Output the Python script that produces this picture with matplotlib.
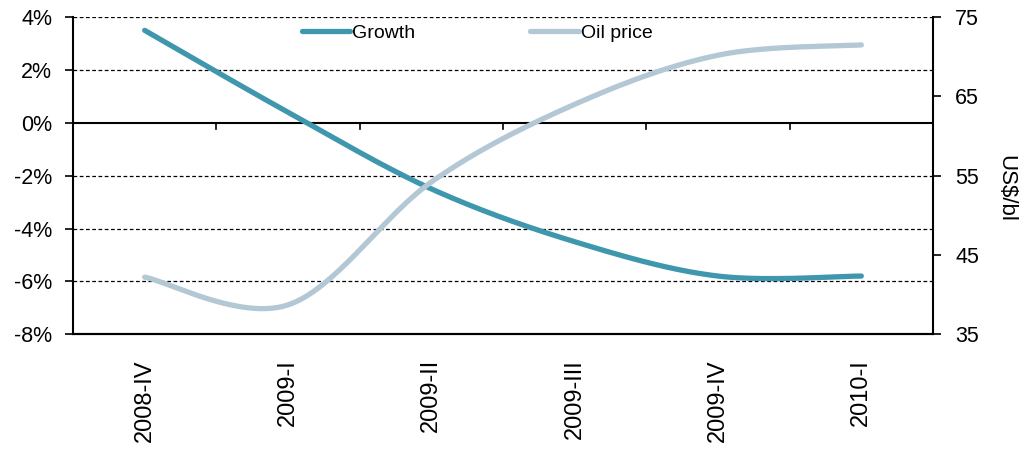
import numpy as np
import matplotlib
matplotlib.use("Agg")
from matplotlib import pyplot as plt
from matplotlib.ticker import FuncFormatter

plt.rcParams['font.family'] = ['Liberation Sans', 'DejaVu Sans']

# data
quarters = ['2008-IV', '2009-I', '2009-II', '2009-III', '2009-IV', '2010-I']
growth = [3.5, 0.4, -2.5, -4.5, -5.8, -5.8]       # % (left axis)
oil_price = [42.2, 38.7, 54.2, 64.0, 70.2, 71.5]  # US$/bl (right axis)

growth_col = '#3f97ae'
oil_col = '#b3c7d5'


def smooth(x, y, n=40):
    # excel-like smoothed line (bezier through the points)
    x = np.asarray(x, float)
    y = np.asarray(y, float)
    px = np.concatenate([[x[0]], x, [x[-1]]])
    py = np.concatenate([[y[0]], y, [y[-1]]])
    t = np.linspace(0, 1, n)
    xs, ys = [], []
    for i in range(1, len(x)):
        p0 = np.array([px[i], py[i]])
        p3 = np.array([px[i + 1], py[i + 1]])
        c1 = p0 + (p3 - np.array([px[i - 1], py[i - 1]])) / 6
        c2 = p3 - (np.array([px[i + 2], py[i + 2]]) - p0) / 6
        b = ((1 - t) ** 3)[:, None] * p0 + (3 * (1 - t) ** 2 * t)[:, None] * c1 \
            + (3 * (1 - t) * t ** 2)[:, None] * c2 + (t ** 3)[:, None] * p3
        xs.append(b[:, 0])
        ys.append(b[:, 1])
    return np.concatenate(xs), np.concatenate(ys)


fig = plt.figure(figsize=(10.24, 4.51), dpi=100)
ax = fig.add_axes([0.0713, 0.259, 0.8398, 0.703])
ax2 = ax.twinx()

x = np.arange(len(quarters))
gx, gy = smooth(x, growth)
ox, oy = smooth(x, oil_price)

l1, = ax.plot(gx, gy, color=growth_col, lw=3.8, solid_capstyle='round', label='Growth', zorder=5)
l2, = ax2.plot(ox, oy, color=oil_col, lw=3.8, solid_capstyle='round', label='Oil price', zorder=4)

ax.set_xlim(-0.5, len(quarters) - 0.5)
ax.set_ylim(-8, 4)
ax2.set_ylim(35, 75)

# grid
for v in [4, 2, -2, -4, -6, -8]:
    ax.axhline(v, color='black', lw=0.9, ls=(0, (3, 2)), zorder=1)
ax.axhline(0, color='black', lw=1.5, zorder=2)
# category tick marks on the zero line
for b in np.arange(0.5, len(quarters) - 0.5, 1):
    ax.plot([b, b], [0, -0.22], color='black', lw=1.2, zorder=2)

ax.set_yticks(np.arange(-8, 5, 2))
ax.yaxis.set_major_formatter(FuncFormatter(lambda v, p: '%d%%' % v))
ax2.set_yticks(np.arange(35, 76, 10))

ax.set_xticks(x)
ax.set_xticklabels(quarters, rotation=90, fontsize=17)
ax.tick_params(axis='x', length=0, pad=18)
ax.tick_params(axis='y', labelsize=15.5, length=6, width=1.2, direction='out', pad=9)
ax2.tick_params(axis='y', labelsize=15.5, length=6, width=1.2, direction='out', pad=10)

for a in (ax, ax2):
    a.spines['top'].set_visible(False)
    for s in a.spines.values():
        s.set_linewidth(1.5)
ax.spines['right'].set_visible(False)
ax2.spines['left'].set_visible(False)

ax2.set_ylabel('US$/bl', rotation=270, fontsize=16, va='center')
ax2.yaxis.set_label_coords(1.085, 0.46)

fig.legend([l1, l2], ['Growth', 'Oil price'], loc='upper center', bbox_to_anchor=(0.466, 0.985),
           ncol=2, frameon=False, fontsize=14, handlelength=2.5, handletextpad=0.1,
           columnspacing=5.9)

fig.savefig('out.png', dpi=100)
